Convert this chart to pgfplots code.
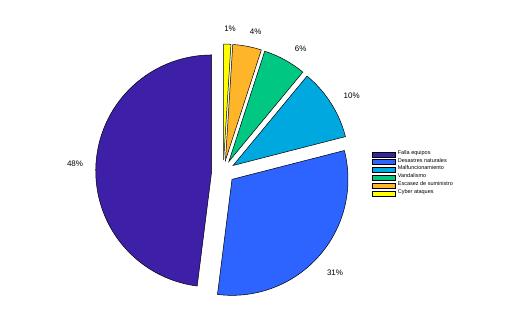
\documentclass[border=0pt]{standalone}
\usepackage{fontspec}
\setmainfont{Liberation Sans}
\usepackage{pgfplots}
\pgfplotsset{compat=1.18}
\definecolor{cfalla}{RGB}{62,31,168}
\definecolor{cdes}{RGB}{45,100,255}
\definecolor{cmal}{RGB}{0,168,224}
\definecolor{cvan}{RGB}{0,200,130}
\definecolor{cesc}{RGB}{255,181,42}
\definecolor{ccyb}{RGB}{255,255,0}
% slice: colour, cumulative percent before, percent
\newcommand\slice[3]{%
  \addplot[fill=#1, draw=black, line width=0.5pt, samples at={-1,0,1,...,60}, variable=\t]
   ({0.1*cos(90+3.6*(#2+#3/2)) + (\t<0 ? 0 : cos(90+3.6*(#2+#3*\t/60)))},
    {0.1*sin(90+3.6*(#2+#3/2)) + (\t<0 ? 0 : sin(90+3.6*(#2+#3*\t/60)))}) -- cycle;
}
\begin{document}
\begin{tikzpicture}
\begin{axis}[
  x=116pt, y=116pt,
  xmin=-1.925, xmax=2.506, ymin=-1.365, ymax=1.480,
  hide axis, clip=false,
  legend cell align=left,
  legend image code/.code={\draw[#1, line width=0.6pt] (0pt,-2.5pt) rectangle (22.7pt,2.5pt);},
  legend style={at={(axis cs:1.284,0.183)}, anchor=north west, draw=none, fill=none,
    inner sep=0pt, outer sep=0pt, row sep=0pt, column sep=2.3pt,
    font=\fontsize{5.5}{6}\selectfont,
    nodes={inner sep=0pt, text height=3.9pt, text depth=3.9pt}},
]
\path (rel axis cs:0,0) rectangle (rel axis cs:1,1);
\slice{cfalla}{0}{48}
\addlegendentry{Falla equipos}
\slice{cdes}{48}{31}
\addlegendentry{Desastres naturales}
\slice{cmal}{79}{10}
\addlegendentry{Malfuncionamiento}
\slice{cvan}{89}{6}
\addlegendentry{Vandalismo}
\slice{cesc}{95}{4}
\addlegendentry{Escasez de suministro}
\slice{ccyb}{99}{1}
\addlegendentry{Cyber ataques}
\addplot[only marks, mark=none, nodes near coords, point meta=explicit symbolic,
  every node near coord/.style={anchor=center, font=\fontsize{8}{9}\selectfont, inner sep=0pt}]
  table[meta=lab] {
x y lab
-1.278 0.066 48\%
0.963 -0.867 31\%
1.107 0.653 10\%
0.667 1.064 6\%
0.279 1.202 4\%
0.058 1.230 1\%
};
\end{axis}
\end{tikzpicture}
\end{document}
